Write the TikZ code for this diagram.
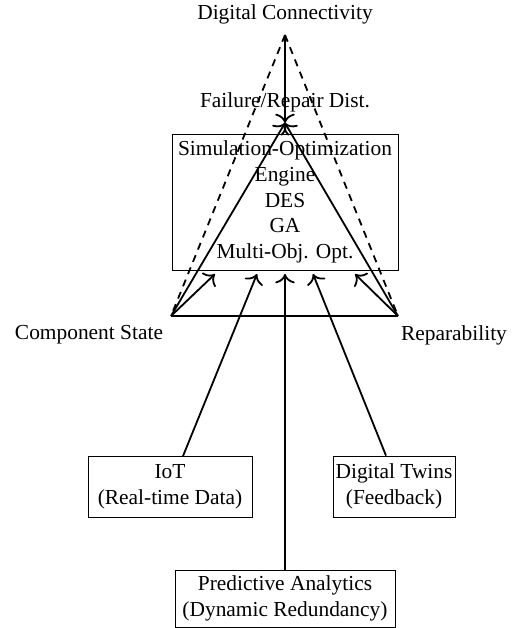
\documentclass[tikz,border=0pt]{standalone}
\usepackage{fontspec}
\setmainfont{Liberation Serif}
\usetikzlibrary{arrows.meta}
\begin{document}
\begin{tikzpicture}[x=0.5pt,y=-0.5pt,
  txt/.style={font=\fontsize{10.7}{12.8}\selectfont},
  lbl/.style={txt, inner sep=0pt},
  box/.style={txt, draw, line width=0.43pt, align=center, inner sep=0pt},
  conn/.style={line width=0.9pt, -{To[scale=1.3]}},
  sline/.style={line width=0.9pt},
  dline/.style={line width=0.9pt, dash pattern=on 3.6pt off 3pt}]
\useasboundingbox (0,0) rectangle (513,628);
% points of the triangle
\coordinate (T) at (285,35);
\coordinate (F) at (285,123);
\coordinate (BL) at (171,316);
\coordinate (BR) at (398,316);
% labels
\node[lbl] (dc) at (285,14) {Digital Connectivity};
\node[lbl] (fr) at (285,102) {Failure/Repair Dist.};
\node[lbl] (cs) at (89,335) {Component State};
\node[lbl] (rp) at (454,335) {Reparability};
% boxes
\node[box, minimum width=113pt, minimum height=68pt] (sim) at (285,202)
  {Simulation-Optimization\\Engine\\DES\\GA\\Multi-Obj. Opt.};
\node[box, minimum width=82pt, minimum height=30.5pt] (iot) at (170,487)
  {IoT\\(Real-time Data)};
\node[box, minimum width=61pt, minimum height=30.5pt] (dt) at (394,486.5)
  {Digital Twins\\(Feedback)};
\node[box, minimum width=110pt, minimum height=28.5pt] (pa) at (285,598.5)
  {Predictive Analytics\\(Dynamic Redundancy)};
% arrow targets under the engine box
\coordinate (a1) at (215,274);
\coordinate (a2) at (257,274);
\coordinate (a3) at (285,274);
\coordinate (a4) at (313,274);
\coordinate (a5) at (355,274);
% connectors
\draw[dline] (T) -- (BL);
\draw[dline] (T) -- (BR);
\draw[conn] (T) -- (F);
\draw[conn] (BL) -- (F);
\draw[conn] (BR) -- (F);
\draw[sline] (BL) -- (BR);
\draw[conn] (BL) -- (a1);
\draw[conn] (BR) -- (a5);
\draw[conn] ([xshift=6.5pt]iot.north) -- (a2);
\draw[conn] (pa.north) -- (a3);
\draw[conn] ([xshift=-4pt]dt.north) -- (a4);
\end{tikzpicture}
\end{document}
